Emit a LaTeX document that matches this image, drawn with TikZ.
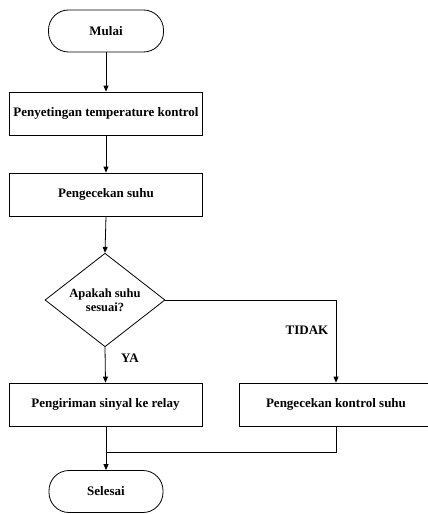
\documentclass[tikz,border=0pt]{standalone}
\usepackage{fontspec}
\setmainfont{Liberation Serif}
\usetikzlibrary{shapes.geometric,arrows.meta}
\begin{document}
\begin{tikzpicture}[x=1pt,y=-1pt,
  every node/.style={font=\bfseries\fontsize{13}{14}\selectfont},
  proc/.style={draw,line width=0.8pt,minimum width=193pt,minimum height=43pt,inner sep=0pt},
  term/.style={draw,line width=0.8pt,rounded corners=20pt,minimum width=115pt,minimum height=42pt,inner sep=0pt},
  dec/.style={draw,line width=0.8pt,diamond,minimum width=120pt,minimum height=90pt,inner sep=0pt,align=center},
  conn/.style={line width=0.8pt,-{Triangle[length=6pt,width=5pt]}},
  plain/.style={line width=0.8pt}]
\useasboundingbox (0,0) rectangle (428,514);
\clip (0,0) rectangle (428,514);
\node[term] (mulai) at (106,31) {Mulai};
\node[proc] (set) at (106,113.5) {Penyetingan temperature kontrol};
\node[proc] (cek) at (106,194.5) {Pengecekan suhu};
\node[dec,font=\bfseries\fontsize{12.5}{13.5}\selectfont] (q) at (105,300) {Apakah suhu\\sesuai?};
\node[proc] (kirim) at (105.5,404.5) {Pengiriman sinyal ke relay};
\node[proc] (kontrol) at (336,404.5) {Pengecekan kontrol suhu};
\node[term,minimum width=114pt] (selesai) at (106,491.5) {Selesai};
\coordinate (tr) at (336,300);
\coordinate (mg) at (336,452);
\coordinate (ml) at (106,452);
\draw[conn] (mulai) -- (set);
\draw[conn] (set) -- (cek);
\draw[conn] (cek.south) -- (q.north);
\draw[conn] (q.south) -- (kirim.north);
\draw[conn] (q.east) -- (tr) -- (kontrol.north);
\draw[plain] (kirim.south -| ml) -- (ml);
\draw[plain] (kontrol.south) -- (mg) -- (ml);
\draw[conn] (ml) -- (selesai.north);
\node at (130,358) {YA};
\node at (307,330) {TIDAK};
\end{tikzpicture}
\end{document}
